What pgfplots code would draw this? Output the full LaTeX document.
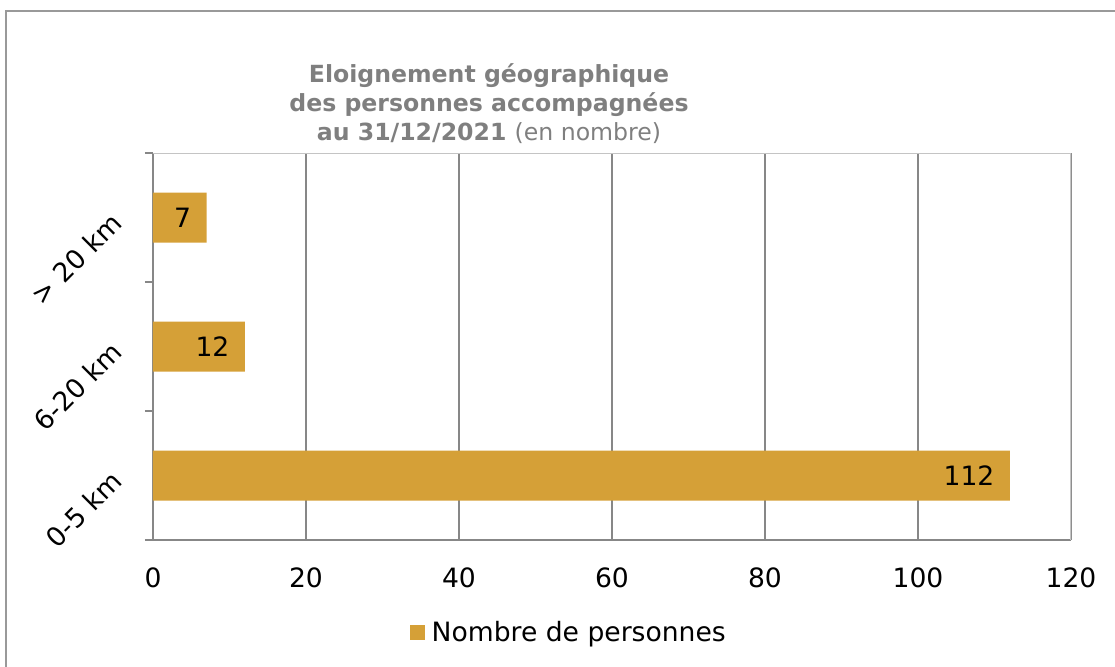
\documentclass[border=0pt]{standalone}
\usepackage{fontspec}
\setmainfont{DejaVu Sans}
\usepackage{pgfplots}
\pgfplotsset{compat=1.18}
\definecolor{barc}{HTML}{D5A037}
\definecolor{gridc}{HTML}{878787}
\definecolor{lightc}{HTML}{C4C4C4}
\definecolor{titlec}{HTML}{7F7F7F}
\definecolor{framec}{HTML}{999999}

\begin{document}
\begin{tikzpicture}[x=0.5pt,y=0.5pt]
\useasboundingbox (0,0) rectangle (1115,666);
\begin{scope}
  \clip (0,0) rectangle (1115,666);
  \draw[framec, line width=1pt] (6,655) rectangle (1200,-50);
\end{scope}
\node[align=center, text=titlec, font=\fontsize{11.8}{14.5}\selectfont\bfseries]
  at (489,562) {Eloignement géographique\\des personnes accompagnées\\au 31/12/2021 {\mdseries(en nombre)}};

\begin{axis}[
  at={(76.5pt,63pt)}, anchor=south west,
  width=459pt, height=193.5pt, scale only axis,
  xbar, bar width=25pt,
  xmin=0, xmax=120, ymin=-0.5, ymax=2.5,
  xtick={0,20,...,120},
  ytick={0,1,2},
  yticklabels={0-5 km, 6-20 km, > 20 km},
  minor ytick={-0.5,0.5,1.5,2.5},
  axis x line*=bottom, axis y line*=left,
  axis line style={gridc, line width=1pt, -},
  xmajorgrids, major grid style={gridc, line width=0.9pt},
  xtick style={draw=none},
  major y tick style={draw=none},
  minor y tick style={draw=gridc, line width=1pt},
  minor tick length=4pt,
  tick align=outside,
  tick label style={font=\fontsize{13.3}{15}\selectfont, black},
  /pgf/number format/assume math mode=true,
  xticklabel style={yshift=-6pt},
  yticklabel style={rotate=45, anchor=east, xshift=-6.5pt, yshift=9.5pt},
  nodes near coords,
  nodes near coords style={anchor=east, xshift=-7.5pt, inner sep=0pt, font=\fontsize{13.3}{15}\selectfont, black},
  legend style={at={(0.454,-0.240)}, anchor=center, draw=none, fill=none,
    font=\fontsize{13.3}{15}\selectfont},
  legend image code/.code={\fill[barc] (0pt,-3.75pt) rectangle (7.5pt,3.75pt); \path (9pt,0pt);},
]
\addplot[fill=barc, draw=none] coordinates {(112,0) (12,1) (7,2)};
\legend{Nombre de personnes}
\draw[lightc, line width=1pt] (rel axis cs:0,1) -- (rel axis cs:1,1) -- (rel axis cs:1,0);
\end{axis}
\end{tikzpicture}
\end{document}
